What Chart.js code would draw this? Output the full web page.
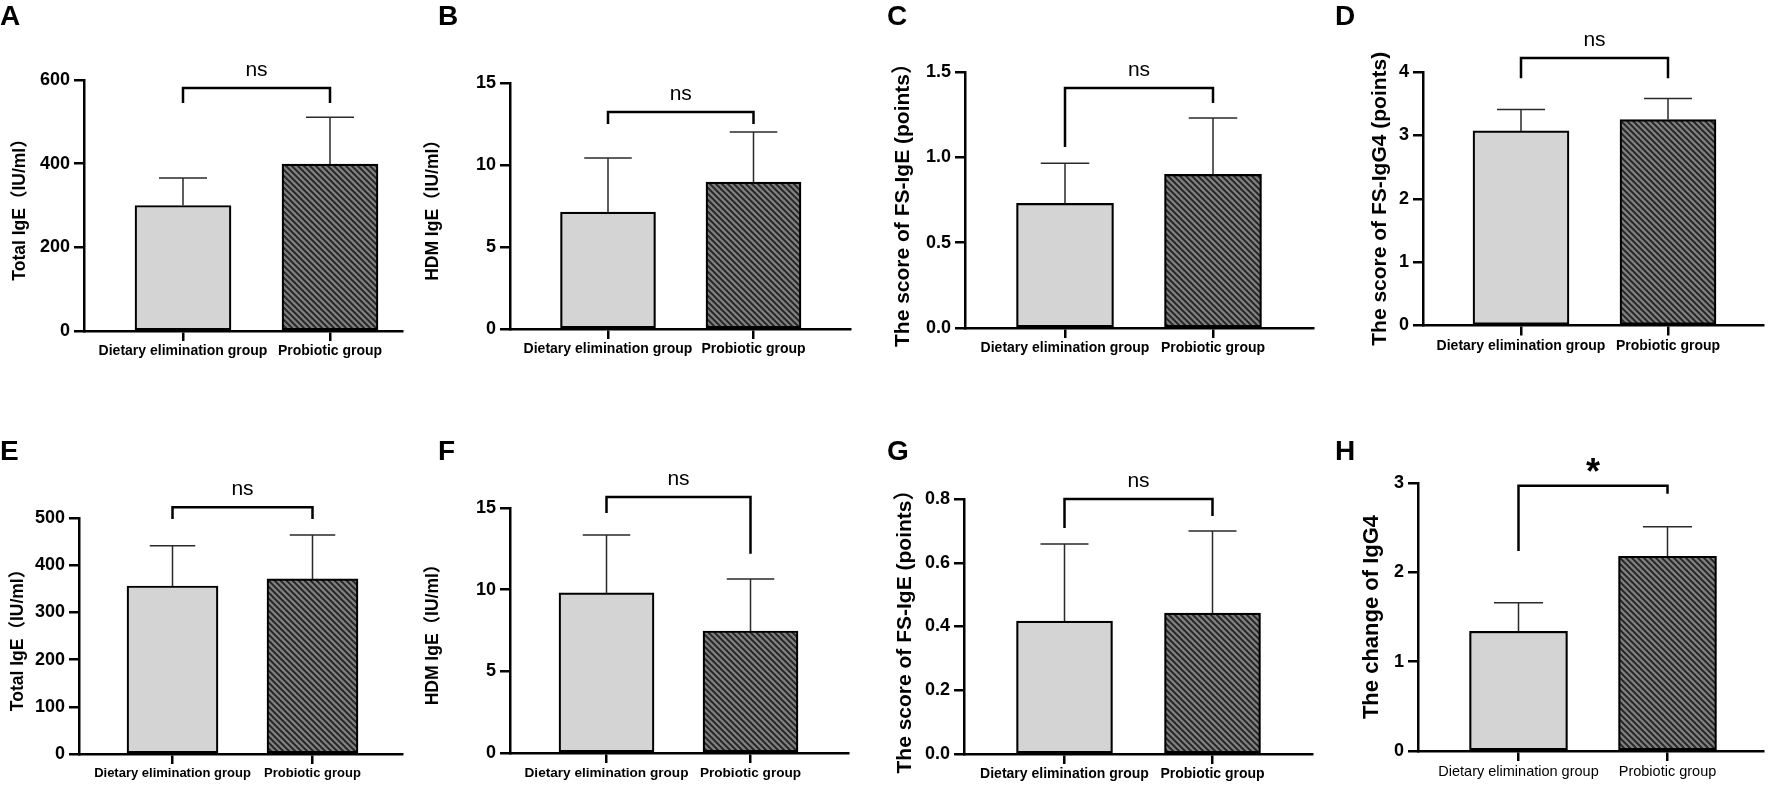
<!DOCTYPE html>
<html><head><meta charset="utf-8">
<script src="https://cdn.jsdelivr.net/npm/chart.js@4.4.1/dist/chart.umd.min.js"></script>
<style>
html,body{margin:0;padding:0;background:#fff;width:1772px;height:792px;overflow:hidden;position:relative}
canvas{position:absolute}
</style></head><body>
<script>
// ---------------- DATA ----------------
const categories = ['Dietary elimination group', 'Probiotic group'];

const meanA = [300, 399],   sdA = [66, 112];
const meanB = [7.13, 8.96], sdB = [3.30, 3.05];
const meanC = [0.73, 0.90], sdC = [0.235, 0.33];
const meanD = [3.07, 3.25], sdD = [0.34, 0.33];
const meanE = [356, 371],   sdE = [85, 93];
const meanF = [9.8, 7.47],  sdF = [3.55, 3.19];
const meanG = [0.417, 0.442], sdG = [0.242, 0.258];
const meanH = [1.34, 2.18], sdH = [0.32, 0.33];

const yTicksA = [0, 200, 400, 600],  yLabelsA = ['0', '200', '400', '600'];
const yTicksB = [0, 5, 10, 15],      yLabelsB = ['0', '5', '10', '15'];
const yTicksC = [0, 0.5, 1, 1.5],    yLabelsC = ['0.0', '0.5', '1.0', '1.5'];
const yTicksD = [0, 1, 2, 3, 4],     yLabelsD = ['0', '1', '2', '3', '4'];
const yTicksE = [0, 100, 200, 300, 400, 500], yLabelsE = ['0', '100', '200', '300', '400', '500'];
const yTicksF = [0, 5, 10, 15],      yLabelsF = ['0', '5', '10', '15'];
const yTicksG = [0, 0.2, 0.4, 0.6, 0.8], yLabelsG = ['0.0', '0.2', '0.4', '0.6', '0.8'];
const yTicksH = [0, 1, 2, 3],        yLabelsH = ['0', '1', '2', '3'];

const panelLetters = ['A', 'B', 'C', 'D', 'E', 'F', 'G', 'H'];
const yTitles = ['Total IgE（IU/ml）', 'HDM IgE（IU/ml）', 'The score of FS-IgE (points）', 'The score of FS-IgG4 (points)',
                 'Total IgE（IU/ml）', 'HDM IgE（IU/ml）', 'The score of FS-IgE (points）', 'The change of IgG4'];
const sigLabels = ['ns', 'ns', 'ns', 'ns', 'ns', 'ns', 'ns', '*'];
// significance bracket heights in data units: [bar height, left leg end, right leg end]
const bracketA = [581, 545, 545];
const bracketB = [13.23, 12.5, 12.5];
const bracketC = [1.406, 1.06, 1.318];
const bracketD = [4.22, 3.90, 3.90];
const bracketE = [523, 498, 498];
const bracketF = [15.67, 14.7, 12.2];
const bracketG = [0.80, 0.709, 0.747];
const bracketH = [2.97, 2.24, 2.88];

// ---------------- LAYOUT ----------------
const FONT = "'Liberation Sans', Arial, 'Noto Sans CJK SC', sans-serif";
const layouts = [
  {left:0,    top0:0,   axisX:84,   axisR:402,  top:80,  zero:331,   c1:183,    c2:330,    barW:96, titleX:20,   titleSize:17.5, lx:0,    ly:25,  xFont:14},
  {left:400,  top0:0,   axisX:510,  axisR:850,  top:83,  zero:329,   c1:608,    c2:753.5,  barW:95, titleX:433,  titleSize:17.5, lx:438,  ly:25,  xFont:14},
  {left:860,  top0:0,   axisX:965,  axisR:1313, top:72,  zero:328,   c1:1065,   c2:1213,   barW:97, titleX:903,  titleSize:21,   lx:887,  ly:25,  xFont:14},
  {left:1320, top0:0,   axisX:1423, axisR:1763, top:72,  zero:325.5, c1:1521,   c2:1668,   barW:96, titleX:1380, titleSize:21,   lx:1335, ly:25,  xFont:14},
  {left:0,    top0:396, axisX:79,   axisR:402,  top:518, zero:754,   c1:172.5,  c2:312.5,  barW:91, titleX:18,   titleSize:17.5, lx:0,    ly:460, xFont:13},
  {left:400,  top0:396, axisX:510,  axisR:848,  top:508, zero:753,   c1:606.5,  c2:750.5,  barW:95, titleX:433,  titleSize:17.5, lx:438,  ly:460, xFont:13.6},
  {left:860,  top0:396, axisX:964,  axisR:1312, top:499, zero:754,   c1:1064.5, c2:1212.5, barW:96, titleX:905,  titleSize:21,   lx:887,  ly:460, xFont:14},
  {left:1320, top0:396, axisX:1418, axisR:1763, top:483, zero:751,   c1:1518.5, c2:1667.5, barW:98, titleX:1372, titleSize:22,   lx:1335, ly:460, xFont:14.5, xRegular:true}
];
const means = [meanA, meanB, meanC, meanD, meanE, meanF, meanG, meanH];
const sds = [sdA, sdB, sdC, sdD, sdE, sdF, sdG, sdH];
const yTicks = [yTicksA, yTicksB, yTicksC, yTicksD, yTicksE, yTicksF, yTicksG, yTicksH];
const yLabels = [yLabelsA, yLabelsB, yLabelsC, yLabelsD, yLabelsE, yLabelsF, yLabelsG, yLabelsH];
const brackets = [bracketA, bracketB, bracketC, bracketD, bracketE, bracketF, bracketG, bracketH];

function hatchPattern() {
  const c = document.createElement('canvas'); c.width = 6; c.height = 6;
  const g = c.getContext('2d');
  g.fillStyle = '#7e7e7e'; g.fillRect(0, 0, 6, 6);
  g.strokeStyle = '#222'; g.lineWidth = 1.9;
  g.beginPath();
  g.moveTo(-3, -3); g.lineTo(9, 9);
  g.moveTo(-3, 3); g.lineTo(3, 9);
  g.moveTo(3, -3); g.lineTo(9, 3);
  g.stroke();
  return g.createPattern(c, 'repeat');
}
const HATCH = hatchPattern();
const LIGHT = '#d4d4d4';

const deco = {
  id: 'deco',
  afterDraw(chart, args, o) {
    const ctx = chart.ctx, xs = chart.scales.x, ys = chart.scales.y;
    const meta = chart.getDatasetMeta(0);
    ctx.save();
    // error bars (upper only)
    ctx.strokeStyle = '#2a2a2a'; ctx.lineWidth = 1.5; ctx.lineCap = 'butt';
    meta.data.forEach((el, i) => {
      const yv = ys.getPixelForValue(o.mean[i] + o.sd[i]);
      const half = o.barW / 4;
      ctx.beginPath();
      ctx.moveTo(el.x, el.y); ctx.lineTo(el.x, yv);
      ctx.moveTo(el.x - half, yv); ctx.lineTo(el.x + half, yv);
      ctx.stroke();
    });
    // significance bracket
    const x1 = xs.getPixelForValue(1), x2 = xs.getPixelForValue(2);
    const yb = ys.getPixelForValue(o.bracket[0]);
    ctx.strokeStyle = '#000'; ctx.lineWidth = 2.5; ctx.lineJoin = 'miter';
    ctx.beginPath();
    ctx.moveTo(x1, ys.getPixelForValue(o.bracket[1]));
    ctx.lineTo(x1, yb); ctx.lineTo(x2, yb);
    ctx.lineTo(x2, ys.getPixelForValue(o.bracket[2]));
    ctx.stroke();
    ctx.fillStyle = '#000'; ctx.textAlign = 'center'; ctx.textBaseline = 'alphabetic';
    if (o.sig === '*') {
      ctx.font = 'bold 36px ' + FONT;
      ctx.fillText(o.sig, (x1 + x2) / 2, yb - 2);
    } else {
      ctx.font = '21px ' + FONT;
      ctx.fillText(o.sig, (x1 + x2) / 2, yb - 12);
    }
    // panel letter
    ctx.font = 'bold 28px ' + FONT; ctx.textAlign = 'left';
    ctx.fillText(o.letter, o.lx, o.ly);
    ctx.restore();
  }
};

layouts.forEach((p, k) => {
  const cv = document.createElement('canvas');
  const W = p.axisR + 6 - p.left, H = 396;
  cv.width = W; cv.height = H;
  cv.style.left = p.left + 'px'; cv.style.top = p.top0 + 'px';
  cv.style.width = W + 'px'; cv.style.height = H + 'px';
  document.body.appendChild(cv);
  const sp = p.c2 - p.c1;
  const xmin = 1 - (p.c1 - p.axisX) / sp, xmax = 2 + (p.axisR - p.c2) / sp;
  const tk = yTicks[k], tl = yLabels[k];
  const lh = p.titleSize * 1.2;
  new Chart(cv, {
    type: 'bar',
    data: {
      datasets: [{
        data: means[k].map((v, i) => ({x: i + 1, y: v})),
        backgroundColor: [LIGHT, HATCH],
        borderColor: '#000', borderWidth: 2.2, borderSkipped: false,
        barThickness: p.barW
      }]
    },
    options: {
      responsive: false, animation: false, devicePixelRatio: 1,
      layout: {padding: {left: 0, top: p.top - p.top0, right: 6, bottom: 0}},
      plugins: {
        legend: {display: false}, tooltip: {enabled: false},
        deco: {mean: means[k], sd: sds[k], barW: p.barW, bracket: brackets[k], sig: sigLabels[k],
               letter: panelLetters[k], lx: p.lx - p.left, ly: p.ly - p.top0}
      },
      scales: {
        x: {
          type: 'linear', min: xmin, max: xmax, offset: false,
          afterBuildTicks: s => { s.ticks = [{value: 1}, {value: 2}]; },
          afterFit: s => { s.height = p.top0 + H - p.zero; },
          ticks: {callback: (v, i) => categories[i], color: '#000', padding: 2, maxRotation: 0, minRotation: 0, autoSkip: false,
                  font: {family: FONT, size: p.xFont, weight: p.xRegular ? 'normal' : 'bold'}},
          grid: {drawOnChartArea: false, drawTicks: true, tickLength: 10, color: '#000', lineWidth: 2.5, offset: false},
          border: {display: true, color: '#000', width: 2.5}
        },
        y: {
          type: 'linear', min: 0, max: tk[tk.length - 1],
          afterBuildTicks: s => { s.ticks = tk.map(v => ({value: v})); },
          afterFit: s => { s.width = p.axisX - p.left; },
          ticks: {callback: (v, i) => tl[i], color: '#000', padding: 4,
                  font: {family: FONT, size: 18, weight: 'bold'}},
          grid: {drawOnChartArea: false, drawTicks: true, tickLength: 10, color: '#000', lineWidth: 2.5},
          border: {display: true, color: '#000', width: 2.5},
          title: {display: true, text: yTitles[k], color: '#000',
                  font: {family: FONT, size: p.titleSize, weight: 'bold'},
                  padding: {top: p.titleX - p.left - lh / 2, bottom: 0}}
        }
      }
    },
    plugins: [deco]
  });
});
</script>
</body></html>
